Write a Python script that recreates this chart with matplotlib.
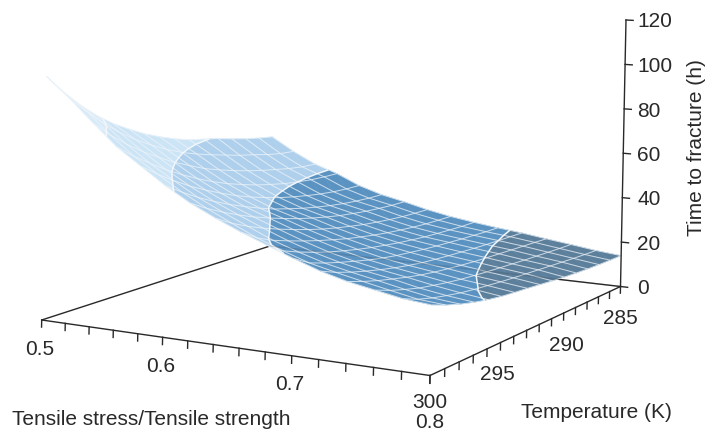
import numpy as np
import matplotlib
matplotlib.use("Agg")
import matplotlib.pyplot as plt
from mpl_toolkits.mplot3d import Axes3D  # noqa
from mpl_toolkits.mplot3d.art3d import Poly3DCollection

stress = [0.50, 0.52, 0.54, 0.56, 0.58, 0.60, 0.62, 0.64, 0.66, 0.68, 0.70, 0.72, 0.74, 0.76, 0.78, 0.80]
temperature = [285, 286, 287, 288, 289, 290, 291, 292, 293, 294, 295, 296, 297, 298, 299, 300]
# time to fracture (h): one row per temperature, one column per stress ratio
t285 = [53.6, 47.4, 42.2, 38.6, 33.9, 30.6, 28.3, 25.7, 23.6, 22.0, 20.6, 19.4, 17.9, 16.5, 15.0, 13.9]
t286 = [54.6, 48.0, 42.6, 38.8, 34.1, 30.8, 28.5, 25.9, 23.8, 22.1, 20.8, 19.7, 18.3, 16.8, 15.3, 14.0]
t287 = [55.9, 49.2, 43.5, 39.2, 34.6, 31.3, 29.0, 26.3, 24.1, 22.5, 21.2, 20.0, 18.7, 17.2, 15.7, 14.2]
t288 = [57.4, 50.8, 44.8, 40.0, 35.4, 32.0, 29.6, 26.9, 24.6, 22.9, 21.6, 20.3, 19.1, 17.6, 16.2, 14.5]
t289 = [59.2, 52.2, 46.1, 41.0, 36.5, 33.0, 30.5, 27.7, 25.3, 23.4, 22.1, 20.7, 19.5, 18.0, 16.7, 14.9]
t290 = [60.5, 54.0, 47.7, 42.4, 37.8, 34.2, 31.5, 28.6, 26.1, 24.1, 22.6, 21.2, 19.9, 18.5, 17.2, 15.4]
t291 = [61.8, 55.8, 49.5, 44.0, 39.3, 35.6, 32.8, 29.8, 27.1, 24.9, 23.2, 21.7, 20.4, 19.0, 17.7, 16.0]
t292 = [63.8, 57.8, 51.6, 46.0, 41.2, 37.3, 34.3, 31.1, 28.3, 25.9, 24.0, 22.3, 21.0, 19.5, 18.2, 16.7]
t293 = [66.4, 60.2, 53.9, 48.2, 43.3, 39.1, 36.0, 32.6, 29.6, 27.0, 24.8, 23.0, 21.7, 20.1, 18.8, 17.4]
t294 = [69.3, 63.2, 57.0, 50.9, 45.8, 41.4, 38.0, 34.4, 31.2, 28.3, 25.9, 24.0, 22.5, 20.8, 19.5, 18.0]
t295 = [73.0, 66.8, 60.2, 54.0, 48.7, 44.0, 40.2, 36.4, 32.9, 29.8, 27.2, 25.2, 23.5, 21.7, 20.2, 18.7]
t296 = [77.0, 70.8, 64.0, 57.5, 51.9, 46.8, 42.6, 38.6, 34.8, 31.4, 28.8, 26.6, 24.8, 22.8, 21.1, 19.7]
t297 = [82.0, 75.5, 68.2, 61.4, 55.4, 50.0, 45.4, 41.0, 36.9, 33.4, 30.5, 28.2, 26.3, 24.0, 22.3, 21.0]
t298 = [88.0, 81.0, 73.0, 65.8, 59.5, 53.5, 48.5, 43.8, 39.2, 35.6, 32.4, 30.0, 27.9, 25.7, 23.7, 22.6]
t299 = [95.0, 87.5, 78.6, 70.6, 64.0, 57.6, 52.0, 47.0, 42.2, 38.2, 34.6, 32.1, 29.8, 27.6, 25.5, 24.6]
t300 = [103.0, 94.5, 85.0, 76.0, 69.0, 62.0, 56.0, 51.0, 46.5, 42.5, 38.5, 34.8, 32.0, 30.0, 28.0, 27.0]
time_rows = [t285, t286, t287, t288, t289, t290, t291, t292, t293, t294, t295, t296, t297, t298, t299, t300]

levels = [0, 20, 40, 60, 80, 200]
band_colors = ["#5c7f9c", "#5a92c1", "#aed0ec", "#cbe4f6", "#d6eaf8"]
z_ticks = [0, 20, 40, 60, 80, 100, 120]
s_labels = ["0.5", "0.6", "0.7", "0.8"]
t_labels = ["300", "295", "290", "285"]
INK = "#2a2829"

plt.rcParams["font.family"] = ["Liberation Sans", "DejaVu Sans"]
W, H = 708, 433
fig = plt.figure(figsize=(W / 100, H / 100), dpi=100)
ax = fig.add_axes([0, 0, 1, 1], projection="3d", computed_zorder=False)
ax.set_axis_off()
ax.set_proj_type("ortho")

# Camera: a projective map calibrated on the floor corners and the vertical axis
s0, s1, t0, t1 = 0.5, 0.8, 285.0, 300.0
corners = [((s0, t1), (41.7, 320.0)), ((s1, t1), (430.0, 375.5)),
           ((s1, t0), (620.5, 286.5)), ((s0, t0), (270.0, 246.0))]
A, b = [], []
for (u, v), (x, y) in corners:
    A.append([u, v, 1, 0, 0, 0, -u * x, -v * x]); b.append(x)
    A.append([0, 0, 0, u, v, 1, -u * y, -v * y]); b.append(y)
p = np.linalg.solve(np.array(A), np.array(b))
wC = p[6] * s1 + p[7] * t0 + 1
ex = (626.0 - 620.5) / 120 * wC
ey = (20.0 - 286.5) / 120 * wC
M = np.array([[p[0], p[1], ex, p[2]],
              [p[3], p[4], ey, p[5]],
              [-1.0, -0.02, 0.0005, 0.5],
              [p[6], p[7], 0.0, 1.0]])
ax.get_proj = lambda: M
ax.apply_aspect = lambda position=None: None


def clip(poly, lev, above):
    out = []
    n = len(poly)
    for i in range(n):
        a, c = poly[i], poly[(i + 1) % n]
        ia = (a[2] >= lev) == above
        ic = (c[2] >= lev) == above
        if ia:
            out.append(a)
        if ia != ic:
            f = (lev - a[2]) / (c[2] - a[2])
            out.append(tuple(a[k] + f * (c[k] - a[k]) for k in range(3)))
    return out


S, T = np.meshgrid(stress, temperature)
Z = np.array(time_rows)
polys, cols = [], []
for i in range(Z.shape[0] - 1):
    for j in range(Z.shape[1] - 1):
        q = [(S[i, j], T[i, j], Z[i, j]), (S[i, j + 1], T[i, j + 1], Z[i, j + 1]),
             (S[i + 1, j + 1], T[i + 1, j + 1], Z[i + 1, j + 1]), (S[i + 1, j], T[i + 1, j], Z[i + 1, j])]
        for tri in ([q[0], q[1], q[2]], [q[0], q[2], q[3]]):
            for b_i in range(len(band_colors)):
                pg = clip(tri, levels[b_i], True)
                if pg:
                    pg = clip(pg, levels[b_i + 1], False)
                if len(pg) >= 3:
                    polys.append(pg)
                    cols.append(band_colors[b_i])

surf = Poly3DCollection(polys, facecolors=cols, edgecolors=cols, linewidths=0.35, zorder=2)
ax.add_collection3d(surf)
ax.plot_wireframe(S, T, Z, rstride=1, cstride=1, color="#eef4f9", linewidth=0.75, alpha=0.72, zorder=3)
ax.contour(S, T, Z, levels=levels[1:-1], colors="#f3f7fb", linewidths=1.1, zorder=4)


def line3(xs, ys, zs, **kw):
    kw.setdefault("color", INK)
    kw.setdefault("linewidth", 1.0)
    kw.setdefault("solid_capstyle", "projecting")
    ax.plot(xs, ys, zs, **kw)


# floor frame and the vertical axis
line3([s0, s0], [t1, t0], [0, 0], zorder=1)
line3([s0, s1], [t0, t0], [0, 0], zorder=1)
line3([s0, s1], [t1, t1], [0, 0], zorder=5)
line3([s1, s1], [t1, t0], [0, 0], zorder=5)
line3([s1, s1], [t0, t0], [0, 120], zorder=5)
line3([s0, s1], [t0, t0], [0, 0], zorder=5, alpha=0.16)
for sv in stress:
    line3([sv, sv], [t1, t1], [0, -3.0], zorder=5)
for tv in temperature:
    line3([s1, s1], [tv, tv], [0, -3.0], zorder=5)
for zv in z_ticks:
    line3([s1, s1 + 0.0056], [t0, t0], [zv, zv], zorder=5)


def label(x, y, s, ha="center", **kw):
    fig.text(x / W, 1 - y / H, s, ha=ha, va="baseline", fontsize=15, color=INK, **kw)


for s, (x, y) in zip(s_labels, [(40, 348), (161, 365), (290, 383), (430, 421.5)]):
    label(x, y + 7, s)
for s, (x, y) in zip(t_labels, [(430, 401), (497, 373), (566, 344), (620, 317)]):
    label(x, y + 7, s)
for zv, y in zip(z_ticks, [286.5, 242.5, 198, 154, 110, 65, 20]):
    label(637, y + 7, str(zv), ha="left")
label(12, 425, "Tensile stress/Tensile strength", ha="left")
label(596, 418, "Temperature (K)")
fig.text(702 / W, 1 - 148 / H, "Time to fracture (h)", rotation=90, rotation_mode="anchor",
         ha="center", va="baseline", fontsize=15, color=INK)

ax.viewLim.intervalx = (0, W)
ax.viewLim.intervaly = (H, 0)
fig.savefig("out.png", dpi=100)
